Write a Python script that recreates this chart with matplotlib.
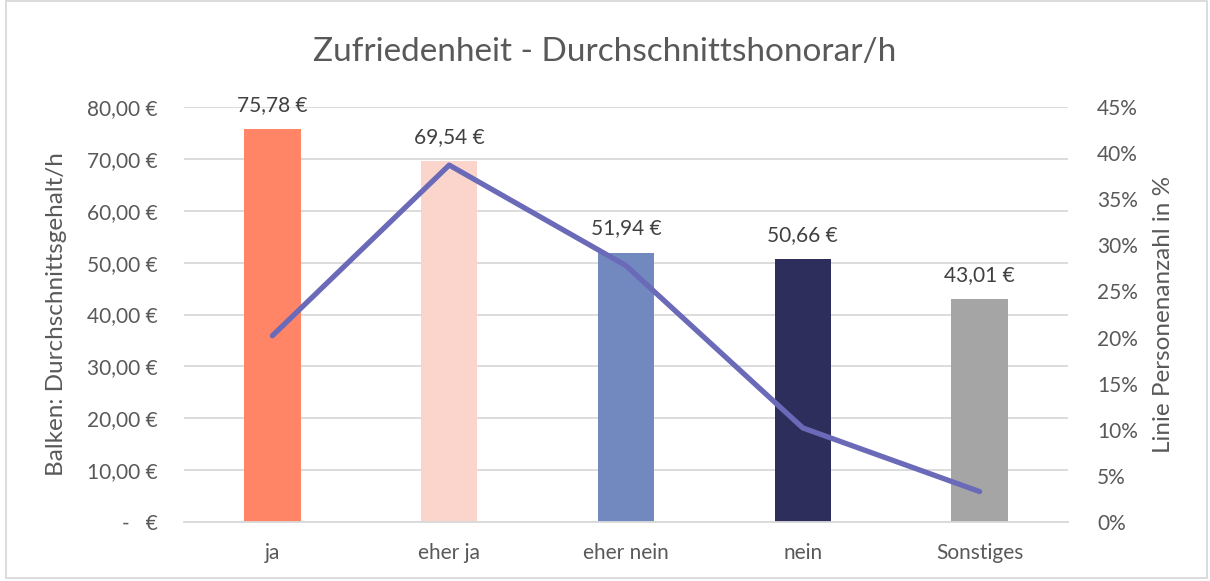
import matplotlib.pyplot as plt
from matplotlib.patches import Rectangle

plt.rcParams['font.family'] = ['Lato', 'DejaVu Sans']

# Daten
kategorien = ['ja', 'eher ja', 'eher nein', 'nein', 'Sonstiges']
honorar = [75.78, 69.54, 51.94, 50.66, 43.01]
personen_anteil = [20.2, 38.7, 27.8, 10.2, 3.3]
farben = ['#FF8566', '#FBD5CB', '#7289C0', '#2E2E5C', '#A5A5A5']

grau = '#595959'

fig = plt.figure(figsize=(12.1, 5.81), dpi=100)
ax = fig.add_axes([184 / 1210, 59 / 581, 884 / 1210, 415 / 581])

x = list(range(len(kategorien)))
ax.bar(x, honorar, width=0.32, color=farben, zorder=2)

# Werte über den Balken
for xi, wert in zip(x, honorar):
    ax.annotate(f'{wert:.2f} €'.replace('.', ','), (xi, wert),
                xytext=(0, 13), textcoords='offset points',
                ha='center', va='baseline', fontsize=15, color='#404040')

ax.set_ylim(0, 80)
ax.set_xlim(-0.5, len(kategorien) - 0.5)
yticks = list(range(0, 81, 10))
ax.set_yticks(yticks)
ax.set_yticklabels([f'{v:.2f} €'.replace('.', ',') if v else '-   €' for v in yticks])
ax.set_xticks(x)
ax.set_xticklabels(kategorien)
ax.grid(axis='y', color='#D9D9D9', linewidth=1.3, zorder=0)
ax.set_axisbelow(True)
for s in ['top', 'left', 'right']:
    ax.spines[s].set_visible(False)
ax.spines['bottom'].set_color('#D9D9D9')
ax.spines['bottom'].set_linewidth(1.3)
ax.tick_params(length=0, labelsize=15, colors=grau)
ax.tick_params(axis='y', pad=19)
ax.tick_params(axis='x', pad=15)
ax.set_ylabel('Balken: Durchschnittsgehalt/h', fontsize=17.5, color=grau, va='center')
ax.yaxis.set_label_coords((57 - 184) / 884, 0.5)

# Linie auf zweiter Achse
ax2 = ax.twinx()
ax2.plot(x, personen_anteil, color='#6A6AB8', linewidth=3.8, solid_capstyle='round', zorder=3)
ax2.set_ylim(0, 45)
pticks = list(range(0, 46, 5))
ax2.set_yticks(pticks)
ax2.set_yticklabels([f'{p}%' for p in pticks])
for s in ['top', 'left', 'right', 'bottom']:
    ax2.spines[s].set_visible(False)
ax2.tick_params(length=0, labelsize=15, colors=grau, pad=21)
ax2.set_ylabel('Linie Personenanzahl in %', fontsize=17.5, color=grau, va='center')
ax2.yaxis.set_label_coords((1163 - 184) / 884, 0.5)

fig.text(0.5, 1 - 52 / 581, 'Zufriedenheit - Durchschnittshonorar/h',
         ha='center', va='center', fontsize=24, color=grau)

# Rahmen um das Diagramm
fig.patches.append(Rectangle((6 / 1210, 3 / 581), 1201 / 1210, 577 / 581,
                             transform=fig.transFigure, fill=False,
                             edgecolor='#D9D9D9', linewidth=1.3))

fig.savefig('out.png', dpi=100)
